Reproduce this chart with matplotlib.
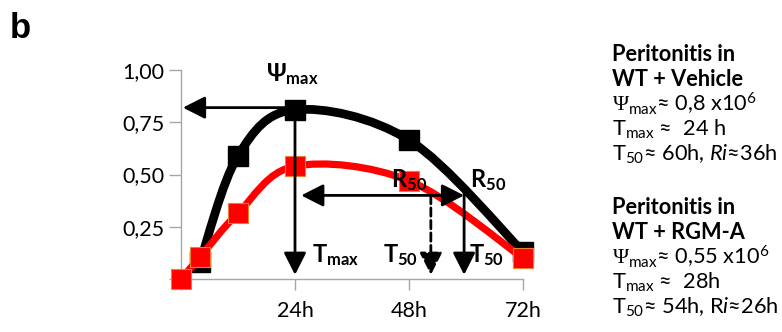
import matplotlib
matplotlib.use('Agg')
import matplotlib.pyplot as plt
from matplotlib.path import Path
from matplotlib.patches import PathPatch

# time points (h) and normalised response
hours_wt = [4, 12, 24, 48, 72]
vehicle = [0.08, 0.59, 0.81, 0.665, 0.13]
hours_rgm = [0, 4, 12, 24, 48, 72]
rgma = [0.0, 0.105, 0.315, 0.54, 0.47, 0.10]

yticks = [0, 0.25, 0.50, 0.75, 1.00]
ylabels = ['', '0,25', '0,50', '0,75', '1,00']
xticks = [0, 24, 48, 72]
xlabels = ['', '24h', '48h', '72h']

# resolution markers
psi_max = 0.81
t_max = 24
r50_level = 0.40
t50_vehicle = 59.6
t50_rgma = 52.6

info_vehicle = ['Peritonitis in', 'WT + Vehicle',
                r'$\mathsf{\Psi}_\mathrm{max}$≈ 0,8 x10$^6$',
                r'T$_\mathrm{max}$ ≈  24 h',
                r'T$_{50}$≈ 60h, $\mathit{Ri}$≈36h']
info_rgma = ['Peritonitis in', 'WT + RGM-A',
             r'$\mathsf{\Psi}_\mathrm{max}$≈ 0,55 x10$^6$',
             r'T$_\mathrm{max}$ ≈  28h',
             r'T$_{50}$≈ 54h, R$\mathit{i}$≈26h']

plt.rcParams['font.family'] = ['Lato', 'DejaVu Sans']
plt.rcParams['mathtext.fontset'] = 'custom'
plt.rcParams['mathtext.rm'] = 'Lato'
plt.rcParams['mathtext.it'] = 'Lato:italic'
plt.rcParams['mathtext.bf'] = 'Lato:bold'
plt.rcParams['mathtext.sf'] = 'Liberation Serif'


def smooth_path(xs, ys):
    # catmull-rom through the points, as cubic bezier segments
    pts = list(zip(xs, ys))
    verts = [pts[0]]
    codes = [Path.MOVETO]
    n = len(pts)
    for i in range(n - 1):
        p0 = pts[i - 1] if i > 0 else pts[i]
        p1 = pts[i]
        p2 = pts[i + 1]
        p3 = pts[i + 2] if i + 2 < n else pts[i + 1]
        c1 = (p1[0] + (p2[0] - p0[0]) / 6, p1[1] + (p2[1] - p0[1]) / 6)
        c2 = (p2[0] - (p3[0] - p1[0]) / 6, p2[1] - (p3[1] - p1[1]) / 6)
        verts += [c1, c2, p2]
        codes += [Path.CURVE4] * 3
    return Path(verts, codes)


fig = plt.figure(figsize=(7.82, 3.32), dpi=100)
ax = fig.add_axes([181 / 782, 1 - 279 / 332, 342 / 782, 209 / 332])
ax.set_xlim(0, 72)
ax.set_ylim(0, 1.0)

ax.add_patch(PathPatch(smooth_path(hours_wt, vehicle), fill=False, color='black', lw=6.3, zorder=2, capstyle='butt'))
ax.plot(hours_wt, vehicle, ls='none', marker='s', ms=15, color='black', zorder=3, clip_on=False)
ax.add_patch(PathPatch(smooth_path(hours_rgm, rgma), fill=False, color='#ff0000', lw=5.2, zorder=4, capstyle='butt'))
ax.plot(hours_rgm, rgma, ls='none', marker='s', ms=14.5, color='#ff0000', mec='#ed7d31', mew=0.8, zorder=5, clip_on=False)

arr = dict(arrowstyle='-|>,head_length=0.75,head_width=0.38', color='black', lw=2, mutation_scale=18, shrinkA=0, shrinkB=0)
ax.annotate('', xy=(0.4, psi_max + 0.01), xytext=(t_max, psi_max + 0.01), arrowprops=arr, zorder=6)
ax.annotate('', xy=(t_max, 0.02), xytext=(t_max, psi_max), arrowprops=arr, zorder=6)
ax.annotate('', xy=(t50_vehicle, 0.02), xytext=(t50_vehicle, r50_level + 0.01), arrowprops=arr, zorder=6)
ax.annotate('', xy=(t50_rgma, 0.02), xytext=(t50_rgma, r50_level), arrowprops=dict(arr, ls=(0, (3, 1.5))), zorder=6)
ax.annotate('', xy=(25.3, r50_level), xytext=(t50_vehicle, r50_level),
            arrowprops=dict(arr, arrowstyle='<|-|>,head_length=0.75,head_width=0.38'), zorder=6)

lab = dict(fontsize=17, va='baseline', zorder=7)
ax.text(t_max - 0.5, 0.945, r'$\mathbf{\Psi_{max}}$', ha='center', **lab)
ax.text(t_max + 3.5, 0.08, r'$\mathbf{T_{max}}$', **lab)
ax.text(42.6, 0.08, r'$\mathbf{T_{50}}$', **lab)
ax.text(60.6, 0.08, r'$\mathbf{T_{50}}$', **lab)
ax.text(44.2, 0.44, r'$\mathbf{R_{50}}$', **lab)
ax.text(60.8, 0.44, r'$\mathbf{R_{50}}$', **lab)

for s in ['top', 'right']:
    ax.spines[s].set_visible(False)
for s in ['left', 'bottom']:
    ax.spines[s].set_color('#a6a6a6')
    ax.spines[s].set_linewidth(1)
ax.set_yticks(yticks)
ax.set_yticklabels(ylabels)
ax.set_xticks(xticks)
ax.set_xticklabels(xlabels)
ax.tick_params(axis='y', length=9, width=1, color='#a6a6a6', pad=3, labelsize=15.5)
ax.tick_params(axis='x', length=8, width=1, color='#a6a6a6', pad=8, labelsize=15.5)

fig.text(10 / 782, 1 - 38 / 332, 'b', fontsize=25, fontweight='bold', family='Liberation Sans', va='baseline')

base1 = [61, 86, 111, 136, 161]
for i, line in enumerate(info_vehicle):
    fig.text(612 / 782, 1 - base1[i] / 332, line, fontsize=15.7, va='baseline',
             fontweight='bold' if i < 2 else 'normal')
    fig.text(612 / 782, 1 - (base1[i] + 153) / 332, info_rgma[i], fontsize=15.7, va='baseline',
             fontweight='bold' if i < 2 else 'normal')

fig.savefig('out.png', dpi=100)
